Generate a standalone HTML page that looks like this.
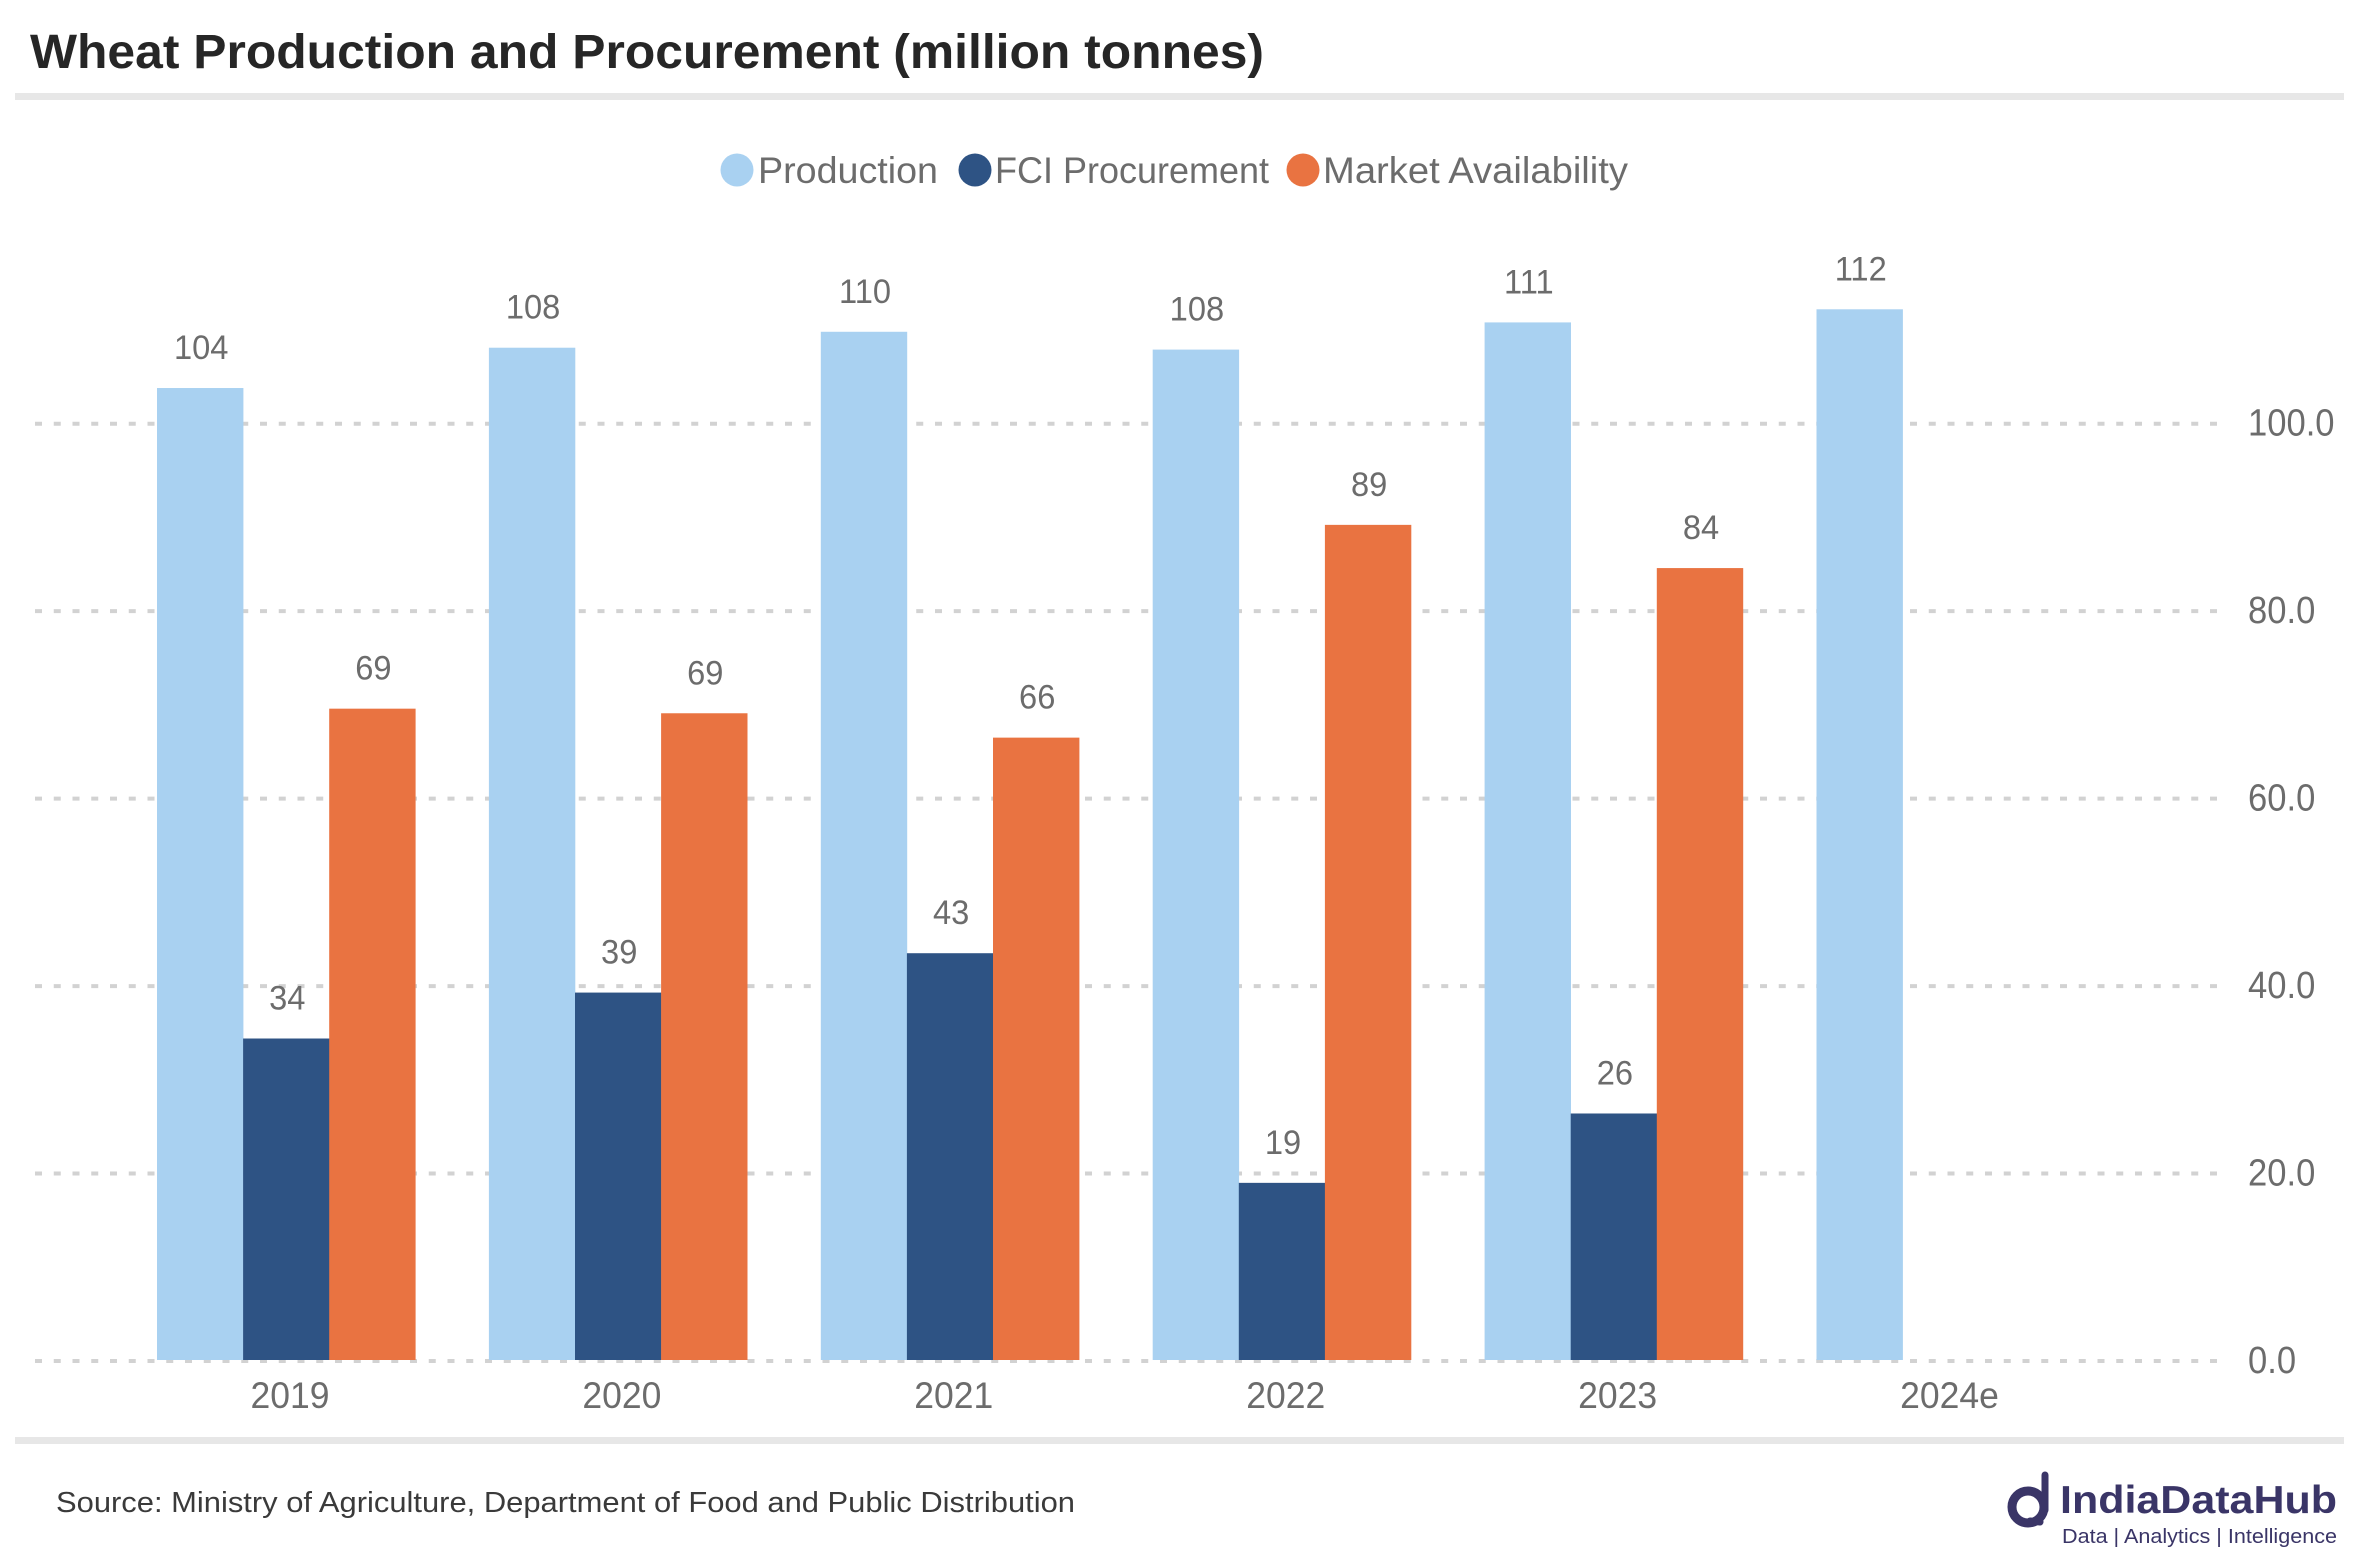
<!DOCTYPE html>
<html lang="en">
<head>
<meta charset="utf-8">
<title>Wheat Production and Procurement</title>
<style>
html,body{margin:0;padding:0;background:#fff;width:2360px;height:1568px;overflow:hidden}
svg{display:block}
text{font-family:"Liberation Sans",sans-serif}
.legend-text{font-size:37px;fill:#6c6c6c}
.logo-text{fill:#3a3567}
</style>
</head>
<body>
<svg id="chart" xmlns="http://www.w3.org/2000/svg" width="2360" height="1568" viewBox="0 0 2360 1568">
  <rect x="0" y="0" width="2360" height="1568" fill="#ffffff"/>
  <text x="30" y="68" font-size="48" font-weight="700" fill="#262626" textLength="1234" lengthAdjust="spacingAndGlyphs">Wheat Production and Procurement (million tonnes)</text>
  <rect x="15" y="93" width="2329" height="7" fill="#e7e7e7"/>

  <g>
    <g>
      <circle cx="737" cy="170" r="16.5" fill="#a9d1f1"/>
      <text class="legend-text" x="758" y="183" textLength="180" lengthAdjust="spacingAndGlyphs">Production</text>
    </g>
    <g>
      <circle cx="975" cy="170" r="16.5" fill="#2e5384"/>
      <text class="legend-text" x="995" y="183" textLength="274" lengthAdjust="spacingAndGlyphs">FCI Procurement</text>
    </g>
    <g>
      <circle cx="1303" cy="170" r="16.5" fill="#e97341"/>
      <text class="legend-text" x="1323" y="183" textLength="305" lengthAdjust="spacingAndGlyphs">Market Availability</text>
    </g>
  </g>

  <g id="grid"></g>
  <g id="marks"></g>
  <g id="labels"></g>
  <g id="yaxis"></g>
  <g id="xaxis"></g>

  <rect x="15" y="1437" width="2329" height="7" fill="#e7e7e7"/>
  <text x="56" y="1512" font-size="29" fill="#3a3a3a" textLength="1019" lengthAdjust="spacingAndGlyphs">Source: Ministry of Agriculture, Department of Food and Public Distribution</text>

  <g>
    <g fill="none" stroke="#3a3567">
      <circle cx="2028" cy="1507" r="16" stroke-width="9"/>
      <line x1="2045" y1="1475" x2="2045" y2="1510" stroke-width="7" stroke-linecap="round"/>
      <line x1="2030" y1="1521" x2="2040" y2="1522" stroke-width="7" stroke-linecap="round"/>
    </g>
    <text class="logo-text" x="2060" y="1513" font-size="39" font-weight="700" textLength="277" lengthAdjust="spacingAndGlyphs">IndiaDataHub</text>
    <text class="logo-text" x="2062" y="1543" font-size="20" textLength="275" lengthAdjust="spacingAndGlyphs">Data | Analytics | Intelligence</text>
  </g>
</svg>
<script>
const categories = ['2019', '2020', '2021', '2022', '2023', '2024e'];
const production = [103.7, 108, 109.7, 107.8, 110.7, 112.1];
const fciProcurement = [34.3, 39.2, 43.4, 18.9, 26.3, null];
const marketAvailability = [69.49, 69, 66.4, 89.1, 84.49, null];
const yTicks = [0, 20, 40, 60, 80, 100];

const NS = 'http://www.w3.org/2000/svg';
const seriesList = [
  { key: 'production', values: production, color: '#a9d1f1', slot: 0 },
  { key: 'fci-procurement', values: fciProcurement, color: '#2e5384', slot: 1 },
  { key: 'market-availability', values: marketAvailability, color: '#e97341', slot: 2 }
];
const TEXT_GREY = '#6c6c6c';

function yScale(v) { return 1360 - v * 9.373; }
function groupLeft(i) { return 157 + i * 331.9; }
function barLeft(i, slot) { return groupLeft(i) + slot * 86.1; }
const barWidth = 86.4;

function makeText(str, x, y, size, anchor, squeeze) {
  const t = document.createElementNS(NS, 'text');
  t.textContent = str;
  t.setAttribute('transform', 'translate(' + x + ' ' + y + ') scale(' + squeeze + ' 1)');
  t.setAttribute('font-size', size);
  t.setAttribute('text-anchor', anchor);
  t.setAttribute('fill', TEXT_GREY);
  return t;
}

const gridGroup = document.getElementById('grid');
const yGroup = document.getElementById('yaxis');
yTicks.forEach(function (tick) {
  const line = document.createElementNS(NS, 'line');
  
  
  line.setAttribute('x1', 35);
  line.setAttribute('x2', 2217);
  line.setAttribute('y1', yScale(tick) + 1);
  line.setAttribute('y2', yScale(tick) + 1);
  line.setAttribute('stroke', '#d2d2d2');
  line.setAttribute('stroke-width', 4);
  line.setAttribute('stroke-dasharray', '7 11.75');
  gridGroup.appendChild(line);

  const label = makeText(tick.toFixed(1), 2248, yScale(tick) + 13, 38, 'start', 0.91);
  
  
  yGroup.appendChild(label);
});

const marksGroup = document.getElementById('marks');
const labelsGroup = document.getElementById('labels');
seriesList.forEach(function (series) {
  series.values.forEach(function (value, i) {
    if (value === null) return;
    const bar = document.createElementNS(NS, 'rect');
    
    
    bar.setAttribute('x', barLeft(i, series.slot));
    bar.setAttribute('y', yScale(value));
    bar.setAttribute('width', barWidth);
    bar.setAttribute('height', yScale(0) - yScale(value));
    bar.setAttribute('fill', series.color);
    marksGroup.appendChild(bar);

    const cx = barLeft(i, series.slot) + barWidth / 2 + 1;
    const valueLabel = makeText(String(Math.round(value)), cx, yScale(value) - 29, 34, 'middle', 0.96);
    
    
    labelsGroup.appendChild(valueLabel);
  });
});

const xGroup = document.getElementById('xaxis');
categories.forEach(function (cat, i) {
  const label = makeText(cat, groupLeft(i) + 133, 1408, 37, 'middle', 0.96);
  
  
  xGroup.appendChild(label);
});
</script>
</body>
</html>
